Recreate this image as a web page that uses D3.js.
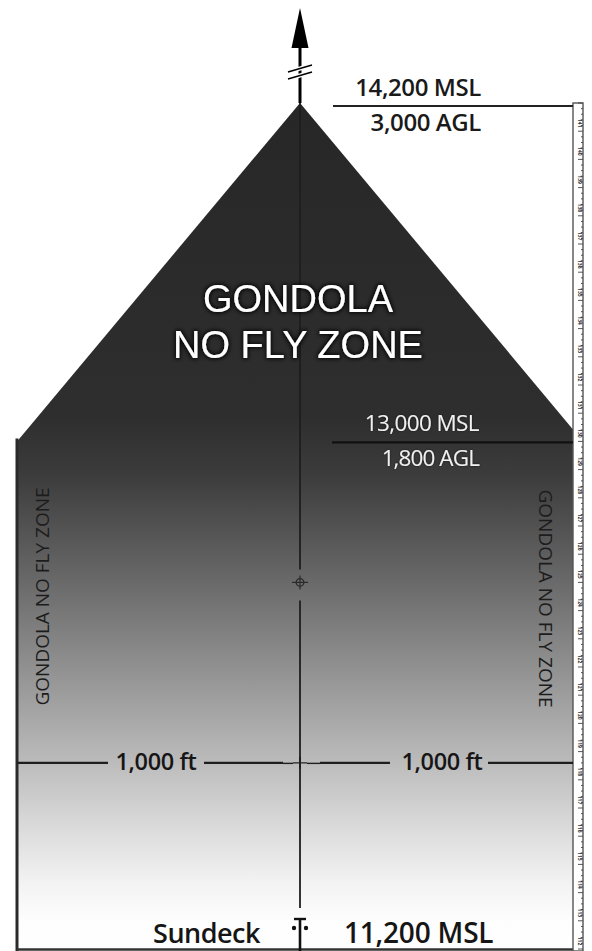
<!DOCTYPE html>
<html><head><meta charset="utf-8">
<script src="https://cdn.jsdelivr.net/npm/d3@7/dist/d3.min.js"></script>
<style>
html,body{margin:0;padding:0;background:#fff;}
svg{display:block;font-family:"Open Sans",sans-serif;}
</style></head>
<body><svg id="c" width="592" height="951"></svg>
<script>
// ---- data ----
const baseMSL = 11200;
const topMSL = 14200;
const lowerMSL = 13000;
const altitudesMSL = [11200, 13000, 14200];
const altitudesAGL = [0, 1800, 3000];
const mslLabels = ["11,200 MSL", "13,000 MSL", "14,200 MSL"];
const aglLabels = ["", "1,800 AGL", "3,000 AGL"];
const halfSpans = [-1000, 1000];
const spanLabels = ["1,000 ft", "1,000 ft"];
const spanAltitude = 11860;
const markerAltitude = 12500;
const zoneX = [-1000, -1000, 0, 1000, 1000];
const zoneAlt = [11200, 13000, 14200, 13000, 11200];
const titleLines = ["GONDOLA", "NO FLY ZONE"];
const sideLabel = "GONDOLA NO FLY ZONE";
const baseName = "Sundeck";
const rulerMinor = 20, rulerMajor = 100;

// ---- scales ----
const svg = d3.select("#c");
const x = d3.scaleLinear().domain([-1000, 1000]).range([17, 583]);
const y = d3.scaleLinear().domain([baseMSL, topMSL]).range([949, 103]);
const cx = x(0);

const defs = svg.append("defs");
const grad = defs.append("linearGradient").attr("id", "g")
  .attr("gradientUnits", "userSpaceOnUse")
  .attr("x1", 0).attr("x2", 0).attr("y1", y(topMSL)).attr("y2", y(baseMSL));
[[0,"#272727"],[0.37,"#2e2e2e"],[0.44,"#3c3c3c"],[0.56,"#676767"],[0.7,"#9d9d9d"],
 [0.776,"#bababa"],[0.85,"#d8d8d8"],[0.92,"#f2f2f2"],[0.965,"#fdfdfd"],[1,"#ffffff"]]
 .forEach(s => grad.append("stop").attr("offset", s[0]).attr("stop-color", s[1]));

const glow = defs.append("filter").attr("id", "glow").attr("x", "-20%").attr("y", "-40%").attr("width", "140%").attr("height", "180%");
glow.append("feMorphology").attr("in", "SourceAlpha").attr("operator", "dilate").attr("radius", 1.2).attr("result", "d");
glow.append("feGaussianBlur").attr("in", "d").attr("stdDeviation", 2.2).attr("result", "b");
glow.append("feFlood").attr("flood-color", "#000").attr("flood-opacity", 0.9);
glow.append("feComposite").attr("in2", "b").attr("operator", "in").attr("result", "s");
const gm = glow.append("feMerge");
gm.append("feMergeNode").attr("in", "s");
gm.append("feMergeNode").attr("in", "SourceGraphic");

const glow2 = defs.append("filter").attr("id", "glow2").attr("x", "-20%").attr("y", "-40%").attr("width", "140%").attr("height", "180%");
glow2.append("feGaussianBlur").attr("in", "SourceAlpha").attr("stdDeviation", 1.3).attr("result", "b");
glow2.append("feFlood").attr("flood-color", "#000").attr("flood-opacity", 0.6);
glow2.append("feComposite").attr("in2", "b").attr("operator", "in").attr("result", "s");
const gm2 = glow2.append("feMerge");
gm2.append("feMergeNode").attr("in", "s");
gm2.append("feMergeNode").attr("in", "SourceGraphic");

// ---- zone shape ----
const pts = zoneX.map((v, i) => [x(v), y(zoneAlt[i])]);
svg.append("path").attr("d", d3.line()(pts) + "Z").attr("fill", "url(#g)");
svg.append("line").attr("x1", x(-1000)).attr("x2", x(-1000))
  .attr("y1", y(lowerMSL) - 3).attr("y2", 951).attr("stroke", "#2a2a2a").attr("stroke-width", 3);
svg.append("line").attr("x1", x(-1000)).attr("x2", x(1000) - 10)
  .attr("y1", y(baseMSL) + 0.5).attr("y2", y(baseMSL) + 0.5).attr("stroke", "#333").attr("stroke-width", 2.5);

// ---- center line ----
const cl = svg.append("g").attr("stroke", "#1e1e1e").attr("stroke-width", 1.8);
cl.append("line").attr("x1", cx).attr("x2", cx).attr("y1", y(topMSL)).attr("y2", y(markerAltitude) - 13);
cl.append("line").attr("x1", cx).attr("x2", cx).attr("y1", y(markerAltitude) + 18).attr("y2", y(baseMSL) - 41);
const my = y(markerAltitude);
svg.append("circle").attr("cx", cx).attr("cy", my).attr("r", 3.8).attr("fill", "none").attr("stroke", "#2a2a2a").attr("stroke-width", 1.3);
svg.append("line").attr("x1", cx - 8).attr("x2", cx + 8).attr("y1", my).attr("y2", my).attr("stroke", "#2a2a2a").attr("stroke-width", 1.2);
svg.append("line").attr("x1", cx).attr("x2", cx).attr("y1", my - 7).attr("y2", my + 7).attr("stroke", "#2a2a2a").attr("stroke-width", 1.2);

// ---- top arrow ----
const ay = y(topMSL);
svg.append("line").attr("x1", cx).attr("x2", cx).attr("y1", ay).attr("y2", 40).attr("stroke", "#000").attr("stroke-width", 3);
svg.append("path").attr("d", `M${cx},8 L${cx + 8.5},48 L${cx - 8.5},48 Z`).attr("fill", "#000");
[0, 7].forEach(o => {
  svg.append("line").attr("x1", cx - 12).attr("x2", cx + 12).attr("y1", 72 + o).attr("y2", 65 + o)
    .attr("stroke", "#fff").attr("stroke-width", 4);
  svg.append("line").attr("x1", cx - 12).attr("x2", cx + 12).attr("y1", 72 + o).attr("y2", 65 + o)
    .attr("stroke", "#000").attr("stroke-width", 1.6);
});

// ---- ruler ----
const rx = x(1000) - 10;
svg.append("rect").attr("x", rx).attr("y", y(topMSL)).attr("width", 10).attr("height", 951 - y(topMSL))
  .attr("fill", "#fff").attr("stroke", "#555").attr("stroke-width", 1.4);
const minor = d3.range(baseMSL, topMSL + 1, rulerMinor);
svg.append("g").selectAll("line").data(minor).join("line")
  .attr("x1", rx + 10).attr("x2", d => rx + (d % rulerMajor === 0 ? 5 : 8))
  .attr("y1", d => y(d)).attr("y2", d => y(d))
  .attr("stroke", "#444").attr("stroke-width", 0.9);
const major = d3.range(baseMSL, topMSL, rulerMajor);
svg.append("g").selectAll("text").data(major).join("text")
  .attr("transform", d => `translate(${rx + 4.5},${y(d) - 8}) rotate(90)`)
  .attr("text-anchor", "middle").attr("font-size", 5).attr("font-weight", 700).attr("fill", "#333")
  .text(d => String(d / 100));

// ---- altitude lines and labels ----
const lx2 = x(1000) - 10;
const labX = x(1000) - 102;
svg.append("line").attr("x1", cx + 33).attr("x2", lx2).attr("y1", y(topMSL) + 3).attr("y2", y(topMSL) + 3)
  .attr("stroke", "#222").attr("stroke-width", 1.8);
svg.append("text").attr("x", labX).attr("y", y(topMSL) - 7).attr("text-anchor", "end")
  .attr("font-size", 24).attr("font-weight", 600).attr("fill", "#1a1a1a").attr("letter-spacing", -0.4).text(mslLabels[2]);
svg.append("text").attr("x", labX).attr("y", y(topMSL) + 28).attr("text-anchor", "end")
  .attr("font-size", 24).attr("font-weight", 600).attr("fill", "#1a1a1a").attr("letter-spacing", -0.4).text(aglLabels[2]);
svg.append("line").attr("x1", cx + 32).attr("x2", lx2).attr("y1", y(lowerMSL) + 1).attr("y2", y(lowerMSL) + 1)
  .attr("stroke", "#111").attr("stroke-width", 2.2);
svg.append("text").attr("x", labX - 2).attr("y", y(lowerMSL) - 10).attr("text-anchor", "end")
  .attr("font-size", 22.5).attr("fill", "#f0f0f0").attr("letter-spacing", -0.6).attr("filter", "url(#glow2)").text(mslLabels[1]);
svg.append("text").attr("x", labX - 2).attr("y", y(lowerMSL) + 25).attr("text-anchor", "end")
  .attr("font-size", 22.5).attr("fill", "#f0f0f0").attr("letter-spacing", -0.9).attr("filter", "url(#glow2)").text(aglLabels[1]);

// ---- title ----
svg.append("g").attr("filter", "url(#glow)").selectAll("text").data(titleLines).join("text")
  .attr("x", cx - 2).attr("y", (d, i) => 312 + i * 46).attr("text-anchor", "middle")
  .attr("font-family", "'Liberation Sans', Arial, sans-serif")
  .attr("font-size", 38).attr("fill", "#fff").text(d => d);

// ---- side labels ----
const sideY = (y(12600) + y(12300)) / 2;
svg.append("text").attr("transform", `translate(${x(-1000) + 32},${sideY}) rotate(-90)`)
  .attr("text-anchor", "middle").attr("font-size", 18).attr("fill", "#1c1c1c")
  .attr("textLength", 218).attr("lengthAdjust", "spacingAndGlyphs").text(sideLabel);
svg.append("text").attr("transform", `translate(${x(1000) - 44},${sideY + 2}) rotate(90)`)
  .attr("text-anchor", "middle").attr("font-size", 18).attr("fill", "#1c1c1c")
  .attr("textLength", 218).attr("lengthAdjust", "spacingAndGlyphs").text(sideLabel);

// ---- span dimension ----
const sy = y(spanAltitude);
const dim = svg.append("g").attr("stroke", "#1e1e1e").attr("stroke-width", 2.4);
dim.append("line").attr("x1", x(-1000)).attr("x2", x(-1000) + 91).attr("y1", sy).attr("y2", sy);
dim.append("line").attr("x1", x(-1000) + 187).attr("x2", cx - 17).attr("y1", sy).attr("y2", sy);
dim.append("line").attr("x1", cx - 17).attr("x2", cx - 7).attr("y1", sy + 0.5).attr("y2", sy + 0.5).attr("stroke-width", 1.4);
dim.append("line").attr("x1", cx + 20).attr("x2", cx + 90).attr("y1", sy).attr("y2", sy);
dim.append("line").attr("x1", cx + 7).attr("x2", cx + 20).attr("y1", sy + 0.5).attr("y2", sy + 0.5).attr("stroke-width", 1.4);
dim.append("line").attr("x1", cx + 188).attr("x2", x(1000) - 10).attr("y1", sy).attr("y2", sy);
dim.append("line").attr("x1", cx - 7).attr("x2", cx + 7).attr("y1", sy).attr("y2", sy).attr("stroke-width", 1.2);
dim.append("line").attr("x1", cx).attr("x2", cx).attr("y1", sy - 6).attr("y2", sy + 6).attr("stroke-width", 2);
svg.selectAll("text.span").data(halfSpans).join("text").attr("class", "span")
  .attr("x", d => d < 0 ? x(-1000) + 139 : cx + 142).attr("y", sy + 7).attr("text-anchor", "middle")
  .attr("font-size", 23.5).attr("font-weight", 600).attr("fill", "#161616").attr("letter-spacing", -0.4)
  .text((d, i) => spanLabels[i]);

// ---- base ----
const by = y(baseMSL);
svg.append("text").attr("x", cx - 40).attr("y", by - 6).attr("text-anchor", "end")
  .attr("font-size", 27).attr("font-weight", 600).attr("fill", "#161616").attr("letter-spacing", -0.5).text(baseName);
svg.append("text").attr("x", cx + 44).attr("y", by - 6).attr("text-anchor", "start")
  .attr("font-size", 28).attr("font-weight", 600).attr("fill", "#161616").attr("letter-spacing", -0.2).text(mslLabels[0]);
const sym = svg.append("g").attr("stroke", "#111").attr("fill", "#111");
sym.append("line").attr("x1", cx - 6).attr("x2", cx + 6).attr("y1", by - 30).attr("y2", by - 30).attr("stroke-width", 2.4);
sym.append("line").attr("x1", cx).attr("x2", cx).attr("y1", by - 30).attr("y2", 951).attr("stroke-width", 2.6);
sym.append("circle").attr("cx", cx - 6).attr("cy", by - 21).attr("r", 2.2).attr("stroke", "none");
sym.append("circle").attr("cx", cx + 6).attr("cy", by - 21).attr("r", 2.2).attr("stroke", "none");
</script></body></html>
